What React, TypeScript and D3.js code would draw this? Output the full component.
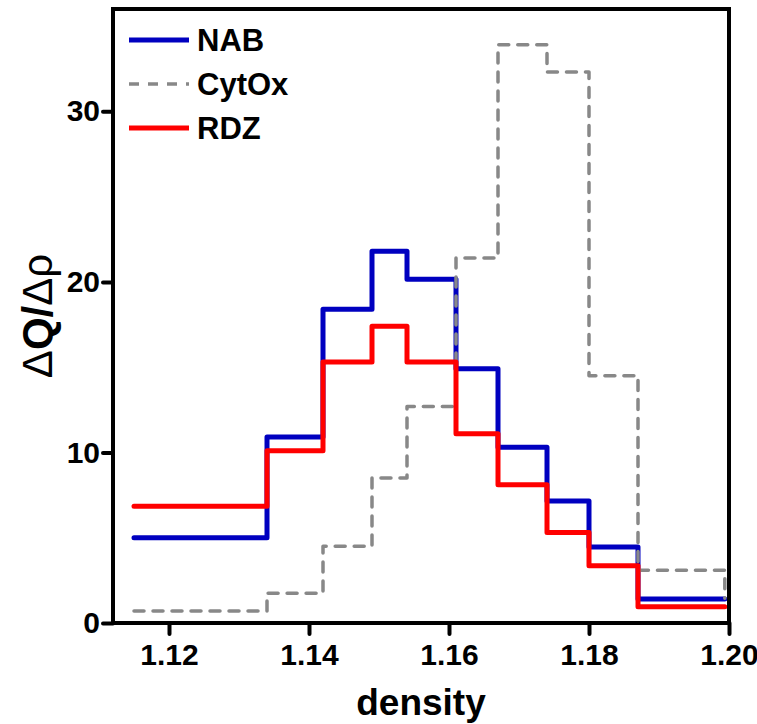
import React, { useRef, useEffect } from "react";
import * as d3 from "d3";

// histogram bin edges (density) and step heights (ΔQ/Δρ)
const binEdges = [1.115, 1.134, 1.142, 1.149, 1.154, 1.161, 1.167, 1.174, 1.18, 1.187, 1.1994];
const nabValues = [5.0, 10.9, 18.4, 21.8, 20.15, 14.9, 10.3, 7.15, 4.45, 1.4];
const cytoxValues = [0.7, 1.75, 4.5, 8.5, 12.7, 21.4, 33.9, 32.3, 14.5, 3.1];
const rdzValues = [6.85, 10.1, 15.3, 17.4, 15.3, 11.1, 8.1, 5.3, 3.35, 0.95];
// value where each trace closes at the last edge
const closingValues = [1.4, 1.45, 0.95];

const xTicks = [1.12, 1.14, 1.16, 1.18, 1.2];
const yTicks = [0, 10, 20, 30];
const seriesNames = ["NAB", "CytOx", "RDZ"];

const width = 757;
const height = 724;
const margin = { top: 9, right: 28, bottom: 101, left: 113 };
const font = "'Liberation Sans', Arial, sans-serif";

const App = () => {
    const canvas = useRef(null);

    useEffect(() => {
        const root = d3.select(canvas.current);
        root.selectAll("*").remove();

        const svg = root
            .append("svg")
            .attr("width", width)
            .attr("height", height)
            .style("display", "block");

        const x = d3
            .scaleLinear()
            .domain([1.112, 1.2])
            .range([margin.left, width - margin.right]);
        const y = d3
            .scaleLinear()
            .domain([0, 36])
            .range([height - margin.bottom, margin.top]);

        const series = [
            { name: "NAB", values: nabValues, end: closingValues[0], color: "#0000c0", dash: null, w: 5 },
            { name: "CytOx", values: cytoxValues, end: closingValues[1], color: "#888888", dash: "10 9", w: 3.5 },
            { name: "RDZ", values: rdzValues, end: closingValues[2], color: "#ff0000", dash: null, w: 5 },
        ];

        const line = d3
            .line()
            .x((d) => x(d[0]))
            .y((d) => y(d[1]))
            .curve(d3.curveStepAfter);

        // blue first, then grey, red on top
        series.forEach((s) => {
            const pts = binEdges.map((e, i) => [e, i < s.values.length ? s.values[i] : s.end]);
            svg.append("path")
                .datum(pts)
                .attr("d", line)
                .attr("fill", "none")
                .attr("stroke", s.color)
                .attr("stroke-width", s.w)
                .attr("stroke-linejoin", "round")
                .attr("stroke-linecap", "round")
                .attr("stroke-dasharray", s.dash);
        });

        // frame
        svg.append("rect")
            .attr("x", x.range()[0])
            .attr("y", y.range()[1])
            .attr("width", x.range()[1] - x.range()[0])
            .attr("height", y.range()[0] - y.range()[1])
            .attr("fill", "none")
            .attr("stroke", "#000")
            .attr("stroke-width", 4);

        // x axis
        const xAxis = svg
            .append("g")
            .attr("transform", `translate(0, ${y(0)})`)
            .call(d3.axisBottom(x).tickValues(xTicks).tickSize(11).tickPadding(10).tickFormat(d3.format(".2f")));
        xAxis.select(".domain").remove();
        xAxis.selectAll("line").attr("stroke-width", 4).attr("stroke-linecap", "round");
        xAxis.selectAll("text")
            .attr("font-family", font)
            .attr("font-weight", "bold")
            .attr("font-size", 30)
            .attr("fill", "#000");

        // y axis
        const yAxis = svg
            .append("g")
            .attr("transform", `translate(${x.range()[0]}, 0)`)
            .call(d3.axisLeft(y).tickValues(yTicks).tickSize(10).tickPadding(3));
        yAxis.select(".domain").remove();
        yAxis.selectAll("line").attr("stroke-width", 4).attr("stroke-linecap", "round");
        yAxis.selectAll("text")
            .attr("font-family", font)
            .attr("font-weight", "bold")
            .attr("font-size", 30)
            .attr("fill", "#000");

        // axis titles
        svg.append("text")
            .attr("x", (x.range()[0] + x.range()[1]) / 2)
            .attr("y", 715)
            .attr("text-anchor", "middle")
            .attr("font-family", font)
            .attr("font-weight", "bold")
            .attr("font-size", 37)
            .text("density");

        const yTitle = svg
            .append("text")
            .attr("transform", "translate(52, 316) rotate(-90)")
            .attr("text-anchor", "middle")
            .attr("font-family", font)
            .attr("font-size", 42);
        yTitle.append("tspan").text("Δ");
        yTitle.append("tspan").attr("font-weight", "bold").text("Q/");
        yTitle.append("tspan").text("Δρ");

        // legend
        const legend = svg.append("g").attr("transform", "translate(129, 40)");
        series.forEach((s, i) => {
            const g = legend.append("g").attr("transform", `translate(0, ${i * 44})`);
            g.append("line")
                .attr("x1", 0)
                .attr("x2", 60)
                .attr("stroke", s.color)
                .attr("stroke-width", s.w)
                .attr("stroke-dasharray", s.dash);
            g.append("text")
                .attr("x", 68)
                .attr("y", 11)
                .attr("font-family", font)
                .attr("font-weight", "bold")
                .attr("font-size", 31)
                .text(seriesNames[i]);
        });
    }, []);

    return (
        <div ref={canvas} style={{ position: "absolute", left: 0, top: 0, background: "#fff" }}></div>
    );
};

export default App;
